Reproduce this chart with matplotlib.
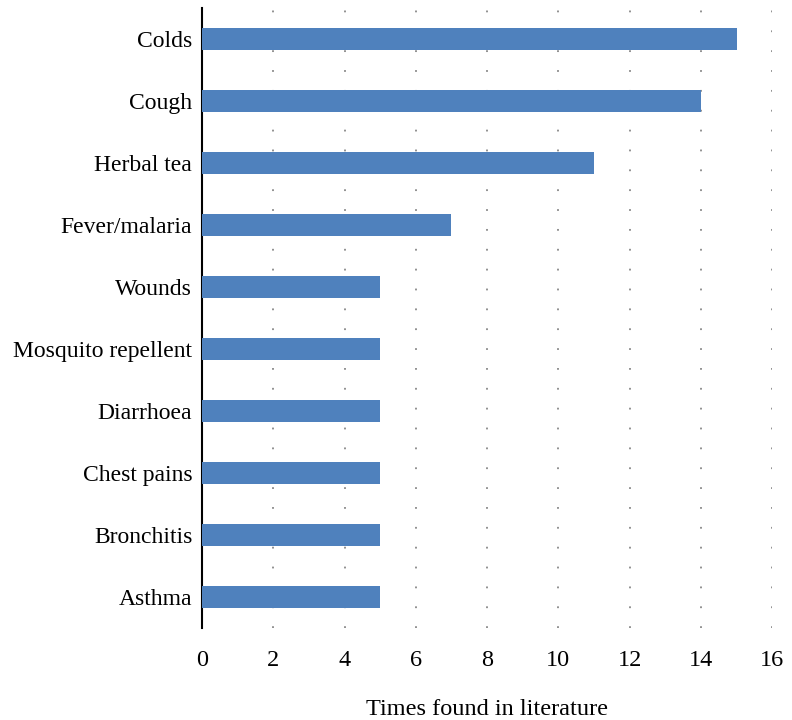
import matplotlib.pyplot as plt

# Дані
uses = ["Colds", "Cough", "Herbal tea", "Fever/malaria", "Wounds",
        "Mosquito repellent", "Diarrhoea", "Chest pains", "Bronchitis", "Asthma"]
counts = [15, 14, 11, 7, 5, 5, 5, 5, 5, 5]
xticks = list(range(0, 17, 2))

plt.rcParams['font.family'] = ['Liberation Serif', 'DejaVu Serif']

fig = plt.figure(figsize=(7.92, 7.2), dpi=100)
ax = fig.add_axes([0.255, 0.128, 0.72, 0.861])

ypos = list(range(len(uses)))
ax.barh(ypos, counts, height=0.36, color='#4F81BD', zorder=3)

ax.set_yticks(ypos)
ax.set_yticklabels(uses, fontsize=17)
ax.set_ylim(len(uses) - 0.5, -0.5)

ax.set_xlim(0, 16)
ax.set_xticks(xticks)
ax.set_xticklabels([str(t) for t in xticks], fontsize=17.5)
ax.set_xlabel('Times found in literature', fontsize=17.5, labelpad=20)

ax.grid(axis='x', color='#888888', linestyle=(0, (1, 10)), linewidth=1.3, zorder=0)
ax.grid(axis='y', visible=False)

for s in ['top', 'right', 'bottom']:
    ax.spines[s].set_visible(False)
ax.spines['left'].set_linewidth(1.5)
ax.tick_params(axis='y', length=0, pad=7)
ax.tick_params(axis='x', length=0, pad=16)

fig.savefig('out.png', dpi=100)
